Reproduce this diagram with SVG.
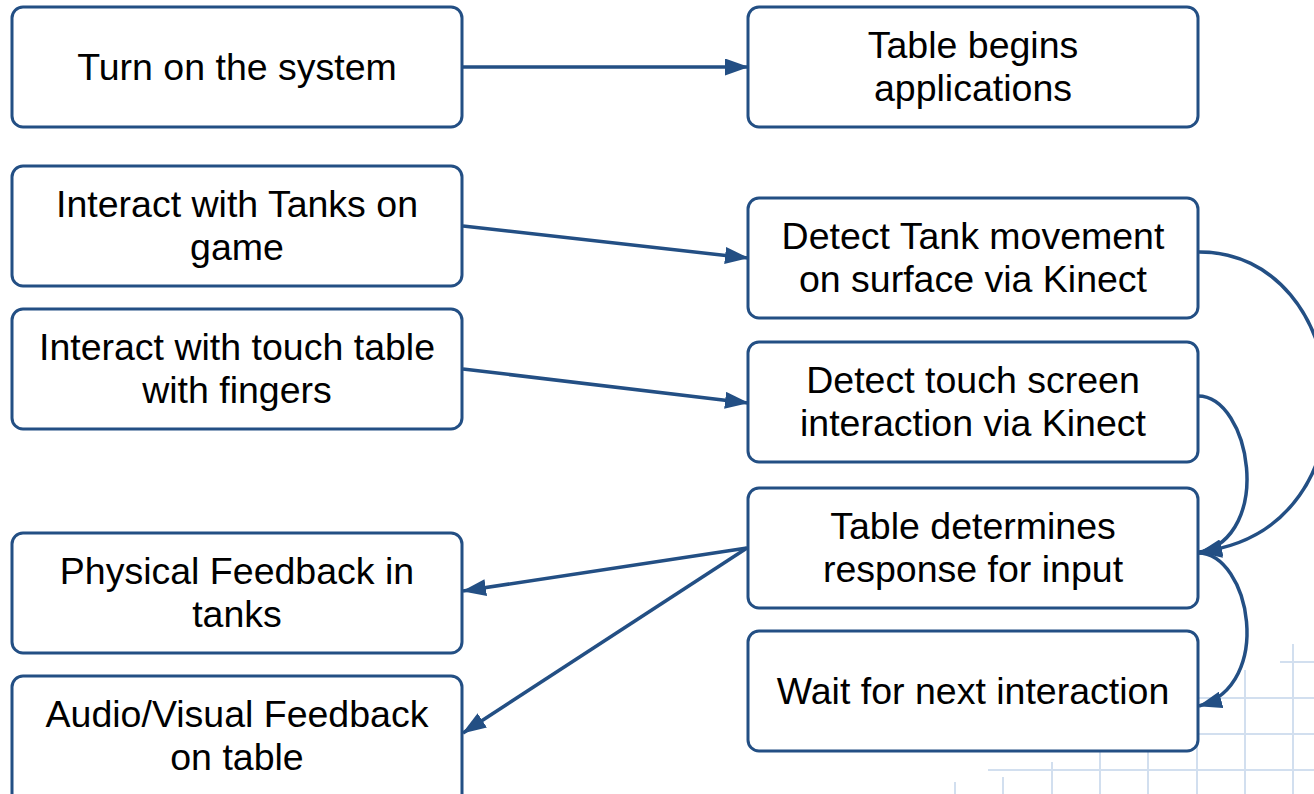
<svg xmlns="http://www.w3.org/2000/svg" width="1314" height="794" viewBox="0 0 1314 794">
<style>
.box{fill:#fff;stroke:#234f84;stroke-width:3}
.t{font-family:"Liberation Sans",Arial,sans-serif;font-size:37.5px;fill:#000;text-anchor:middle}
.c{fill:none;stroke:#234f84;stroke-width:3.5}
.g{stroke:#d2dfef;stroke-width:2;fill:none}
</style>
<defs>
<marker id="ah" viewBox="0 0 24 17" refX="23" refY="8.5" markerWidth="24" markerHeight="17" markerUnits="userSpaceOnUse" orient="auto">
<path d="M0,0 L24,8.5 L0,17 Z" fill="#234f84"/>
</marker>
</defs>
<rect width="1314" height="794" fill="#fff"/>
<g id="grid">
<path class="g" d="M955,782V794 M1003,777V794 M1052,762V794 M1100,747V794 M1148,717V794 M1197,695V794 M1245,670V794 M1293,644V794 M1280,662H1314 M1195,698H1314 M1112,734H1314 M988,770H1314"/>
</g>
<g id="n1"><rect class="box" x="12" y="7" width="450" height="120" rx="11"/><text class="t" x="237" y="80">Turn on the system</text></g>
<g id="n2"><rect class="box" x="748" y="7" width="450" height="120" rx="11"/><text class="t" x="973" y="58">Table begins</text><text class="t" x="973" y="101">applications</text></g>
<g id="n3"><rect class="box" x="12" y="166" width="450" height="120" rx="11"/><text class="t" x="237" y="217">Interact with Tanks on</text><text class="t" x="237" y="260">game</text></g>
<g id="n4"><rect class="box" x="748" y="198" width="450" height="120" rx="11"/><text class="t" x="973" y="249">Detect Tank movement</text><text class="t" x="973" y="292">on surface via Kinect</text></g>
<g id="n5"><rect class="box" x="12" y="309" width="450" height="120" rx="11"/><text class="t" x="237" y="360">Interact with touch table</text><text class="t" x="237" y="403">with fingers</text></g>
<g id="n6"><rect class="box" x="748" y="342" width="450" height="120" rx="11"/><text class="t" x="973" y="393">Detect touch screen</text><text class="t" x="973" y="436">interaction via Kinect</text></g>
<g id="n7"><rect class="box" x="748" y="488" width="450" height="120" rx="11"/><text class="t" x="973" y="539">Table determines</text><text class="t" x="973" y="582">response for input</text></g>
<g id="n8"><rect class="box" x="12" y="533" width="450" height="120" rx="11"/><text class="t" x="237" y="584">Physical Feedback in</text><text class="t" x="237" y="627">tanks</text></g>
<g id="n9"><rect class="box" x="748" y="631" width="450" height="120" rx="11"/><text class="t" x="973" y="704">Wait for next interaction</text></g>
<g id="n10"><rect class="box" x="12" y="676" width="450" height="130" rx="11"/><text class="t" x="237" y="727">Audio/Visual Feedback</text><text class="t" x="237" y="770">on table</text></g>
<g id="connectors">
<path class="c" marker-end="url(#ah)" d="M463,67 L748,67"/>
<path class="c" marker-end="url(#ah)" d="M463,226 L748,258"/>
<path class="c" marker-end="url(#ah)" d="M463,369 L748,403"/>
<path class="c" marker-end="url(#ah)" d="M747,548 L463,591"/>
<path class="c" marker-end="url(#ah)" d="M747,548 L463,733"/>
<path class="c" marker-end="url(#ah)" d="M1198,252 C1355,250 1385,530 1199,552"/>
<path class="c" marker-end="url(#ah)" d="M1198,396 C1250,396 1275,535 1199,553"/>
<path class="c" marker-end="url(#ah)" d="M1198,553 C1250,553 1275,685 1199,706"/>
</g>
</svg>
